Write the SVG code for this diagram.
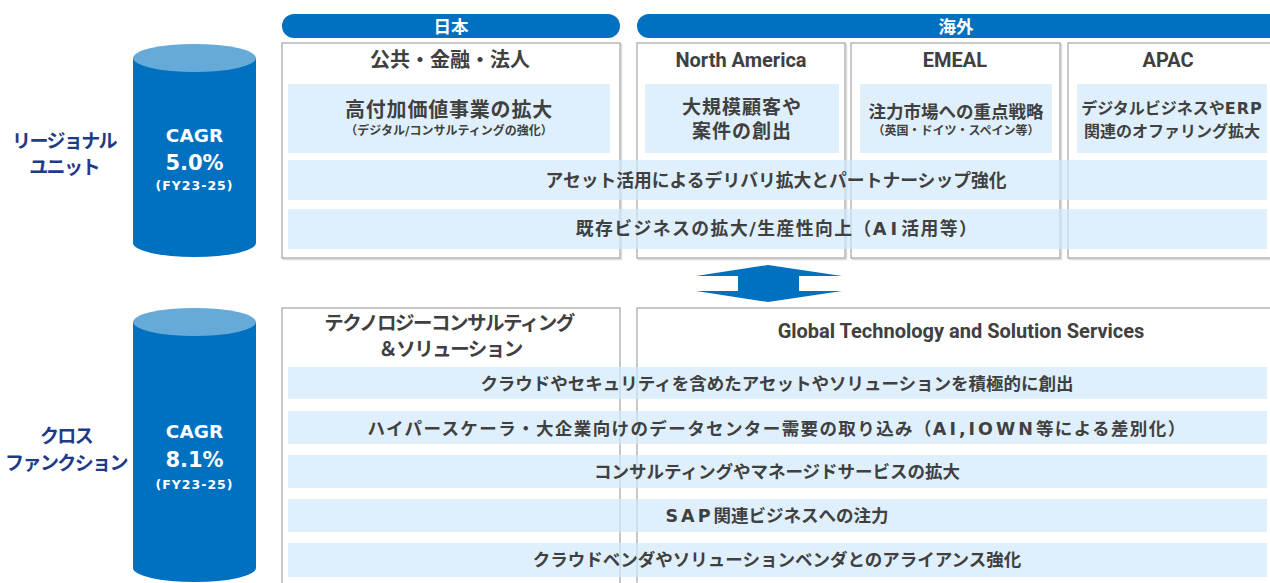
<svg xmlns="http://www.w3.org/2000/svg" width="1270" height="583" viewBox="0 0 1270 583">
<style>
.bg{fill:#ffffff}
.hdr{fill:#0070c0}
.hdrt{font-family:"Noto Sans CJK JP",sans-serif;font-weight:700;font-size:17.5px;fill:#ffffff;text-anchor:middle}
.box{fill:#ffffff;stroke:#a3a3a3;stroke-width:1.2}
.shd{fill:none;stroke:#dcdcdc;stroke-width:1.5}
.inner{fill:#dff0fc}
.band{fill:#d1e9fb;fill-opacity:0.7}
.jp{font-family:"Noto Sans CJK JP",sans-serif;font-weight:700;fill:#404040;text-anchor:middle}
.mix{font-family:"DejaVu Sans","Noto Sans CJK JP",sans-serif;font-weight:700;fill:#404040;text-anchor:middle}
.lat{letter-spacing:3px}
.en{font-family:Roboto,"Noto Sans",sans-serif;font-weight:700;font-size:20px;fill:#404040;text-anchor:middle}
.cylb{fill:#0070c0}
.cylt{fill:#66aad9}
.cagr{font-family:"DejaVu Sans",sans-serif;font-weight:700;fill:#ffffff;text-anchor:middle}
.lbl{font-family:"Noto Sans CJK JP",sans-serif;font-weight:700;font-size:19px;fill:#1f3b87;text-anchor:middle;letter-spacing:-1.6px}
.arrow{fill:#0070c0}
</style>
<rect class="bg" x="0" y="0" width="1270" height="583"/>

<!-- headers -->
<g id="hdr-japan">
  <rect class="hdr" x="282" y="14" width="338" height="24" rx="12"/>
  <text class="hdrt" x="451" y="32.5">日本</text>
</g>
<g id="hdr-overseas">
  <rect class="hdr" x="637" y="14" width="660" height="24" rx="12"/>
  <text class="hdrt" x="956" y="32.5">海外</text>
</g>

<!-- regional unit: left label & cylinder -->
<g id="label-regional">
  <text class="lbl" x="64" y="147.5">リージョナル</text>
  <text class="lbl" x="64" y="173.5">ユニット</text>
</g>
<g id="cyl-regional">
  <path class="cylb" d="M133,58 V243 A61.5,14 0 0 0 256,243 V58 Z"/>
  <ellipse class="cylt" cx="194.5" cy="58" rx="61.5" ry="14"/>
  <text class="cagr" x="194.5" y="141.5" font-size="18.5">CAGR</text>
  <text class="cagr" x="194.5" y="170" font-size="21">5.0%</text>
  <text class="cagr" x="194.5" y="190" font-size="12.5" letter-spacing="1">(FY23-25)</text>
</g>

<!-- regional boxes -->
<g id="box-japan">
  <rect class="shd" x="283.5" y="44.5" width="338" height="215"/>
  <rect class="box" x="282" y="43" width="338" height="215"/>
  <text class="jp" x="450" y="67" font-size="20">公共・金融・法人</text>
  <rect class="inner" x="288" y="84" width="322" height="69"/>
  <text class="jp" x="449" y="117" font-size="20" letter-spacing="0.8">高付加価値事業の拡大</text>
  <text class="mix" x="449" y="134.5" font-size="12">（デジタル/コンサルティングの強化）</text>
</g>
<g id="box-na">
  <rect class="shd" x="638.5" y="44.5" width="208" height="215"/>
  <rect class="box" x="637" y="43" width="208" height="215"/>
  <text class="en" x="741" y="67">North America</text>
  <rect class="inner" x="645" y="84" width="194" height="69"/>
  <text class="jp" x="742" y="113.5" font-size="19" letter-spacing="1">大規模顧客や</text>
  <text class="jp" x="742" y="138" font-size="19" letter-spacing="1">案件の創出</text>
</g>
<g id="box-emeal">
  <rect class="shd" x="852.5" y="44.5" width="209" height="215"/>
  <rect class="box" x="851" y="43" width="209" height="215"/>
  <text class="en" x="955" y="67">EMEAL</text>
  <rect class="inner" x="860" y="84" width="192" height="69"/>
  <text class="jp" x="956" y="117.8" font-size="17.5">注力市場への重点戦略</text>
  <text class="jp" x="956" y="134.5" font-size="12">（英国・ドイツ・スペイン等）</text>
</g>
<g id="box-apac">
  <rect class="shd" x="1069.5" y="44.5" width="220" height="215"/>
  <rect class="box" x="1068" y="43" width="220" height="215"/>
  <text class="en" x="1168" y="67">APAC</text>
  <rect class="inner" x="1077" y="84" width="190" height="69"/>
  <text class="mix" x="1172" y="113.5" font-size="16">デジタルビジネスや<tspan letter-spacing="1">ERP</tspan></text>
  <text class="jp" x="1172" y="136.5" font-size="16">関連のオファリング拡大</text>
</g>

<!-- regional shared bands -->
<g id="band-asset">
  <rect class="band" x="288" y="160" width="979" height="40"/>
  <text class="jp" x="776" y="186.5" font-size="17.8">アセット活用によるデリバリ拡大とパートナーシップ強化</text>
</g>
<g id="band-existing">
  <rect class="band" x="288" y="209" width="979" height="40"/>
  <text class="mix" x="777" y="235" font-size="17.8" letter-spacing="1.5">既存ビジネスの拡大/生産性向上（<tspan letter-spacing="4">AI</tspan>活用等）</text>
</g>

<!-- connector: double arrow -->
<g id="connectors">
  <polygon class="arrow" points="696,276 768,265 842,276 799,276 799,291 842,291 768,302 696,291 738,291 738,276"/>
</g>

<!-- cross function: left label & cylinder -->
<g id="label-cross">
  <text class="lbl" x="66" y="443">クロス</text>
  <text class="lbl" x="66" y="469.5">ファンクション</text>
</g>
<g id="cyl-cross">
  <path class="cylb" d="M133,322 V568 A61.5,14 0 0 0 256,568 V322 Z"/>
  <ellipse class="cylt" cx="194.5" cy="322" rx="61.5" ry="14"/>
  <text class="cagr" x="194.5" y="438.4" font-size="18.5">CAGR</text>
  <text class="cagr" x="194.5" y="467" font-size="21">8.1%</text>
  <text class="cagr" x="194.5" y="488.5" font-size="12.5" letter-spacing="1">(FY23-25)</text>
</g>

<!-- cross function boxes -->
<g id="box-tcs">
  <rect class="box" x="282" y="308" width="338" height="300"/>
  <text class="jp" x="449" y="329.5" font-size="19.5" letter-spacing="-1.5">テクノロジーコンサルティング</text>
  <text class="jp" x="450" y="356" font-size="19.5" letter-spacing="-1.5">＆ソリューション</text>
</g>
<g id="box-gtss">
  <rect class="box" x="637" y="308" width="660" height="300"/>
  <text class="en" x="961" y="338">Global Technology and Solution Services</text>
</g>

<!-- cross function bands -->
<g id="band-cloud">
  <rect class="band" x="288" y="367" width="979" height="32"/>
  <text class="jp" x="777" y="389.6" font-size="17.5">クラウドやセキュリティを含めたアセットやソリューションを積極的に創出</text>
</g>
<g id="band-hyperscaler">
  <rect class="band" x="288" y="411" width="979" height="33"/>
  <text class="mix" x="777" y="434.6" font-size="17.5" letter-spacing="1.4">ハイパースケーラ・大企業向けのデータセンター需要の取り込み（<tspan class="lat">AI,IOWN</tspan>等による差別化）</text>
</g>
<g id="band-consulting">
  <rect class="band" x="288" y="455" width="979" height="33"/>
  <text class="jp" x="777" y="477.6" font-size="17.5">コンサルティングやマネージドサービスの拡大</text>
</g>
<g id="band-sap">
  <rect class="band" x="288" y="499" width="979" height="33"/>
  <text class="mix" x="777" y="522" font-size="17.5"><tspan class="lat">SAP</tspan>関連ビジネスへの注力</text>
</g>
<g id="band-alliance">
  <rect class="band" x="288" y="543" width="979" height="34"/>
  <text class="jp" x="777" y="566.3" font-size="17.5">クラウドベンダやソリューションベンダとのアライアンス強化</text>
</g>
</svg>
